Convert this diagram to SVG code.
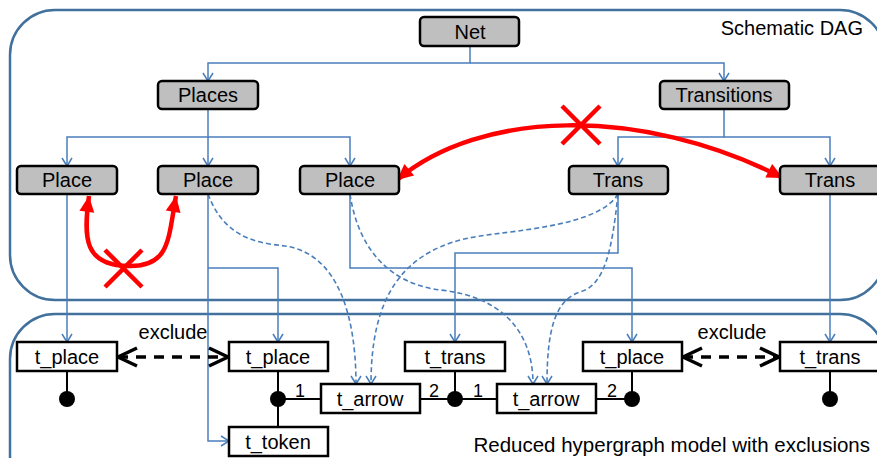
<svg xmlns="http://www.w3.org/2000/svg" width="877" height="458" viewBox="0 0 877 458">
<style>
.cont{fill:none;stroke:#41719C;stroke-width:2.5}
.gn{fill:#BFBFBF;stroke:#000;stroke-width:2.5}
.wn{fill:#fff;stroke:#000;stroke-width:2.5}
text{font-family:"Liberation Sans",Arial,sans-serif;font-size:20px;fill:#000}
.c{text-anchor:middle}
.blue{fill:none;stroke:#4A7EBB;stroke-width:1.5;marker-end:url(#ba)}
.bd{fill:none;stroke:#4A7EBB;stroke-width:1.6;stroke-dasharray:5,3;marker-end:url(#ba)}
.bl{fill:none;stroke:#000;stroke-width:2}
.ex{fill:none;stroke:#000;stroke-width:3.5;stroke-dasharray:10,8;marker-start:url(#xa);marker-end:url(#xa)}
.red{fill:none;stroke:#FF0000;stroke-width:4.5;marker-start:url(#ra);marker-end:url(#ra)}
.rx{stroke:#FF0000;stroke-width:4.5;fill:none}
.lbl{font-size:18px}
</style>
<defs>
<marker id="ba" viewBox="-10 -7 12 14" markerWidth="12" markerHeight="14" refX="0" refY="0" orient="auto" markerUnits="userSpaceOnUse"><path d="M-8,-5 L0,0 L-8,5" fill="none" stroke="#4A7EBB" stroke-width="1.5"/></marker>
<marker id="xa" viewBox="-24 -13 28 26" markerWidth="28" markerHeight="26" refX="0" refY="0" orient="auto-start-reverse" markerUnits="userSpaceOnUse"><path d="M-19,-9 L0,0 L-19,9" fill="none" stroke="#000" stroke-width="3.5"/></marker>
<marker id="ra" viewBox="-17 -9 19 18" markerWidth="19" markerHeight="18" refX="0" refY="0" orient="auto-start-reverse" markerUnits="userSpaceOnUse"><path d="M-16,-7.5 L0,0 L-16,7.5 Z" fill="#FF0000"/></marker>
</defs>
<rect width="877" height="458" fill="#fff"/>
<g id="containers">
<rect class="cont" x="10" y="10" width="875" height="290" rx="45"/>
<rect class="cont" x="10" y="314" width="875" height="200" rx="45"/>
<text x="863" y="35" text-anchor="end">Schematic DAG</text>
<text x="870" y="452" text-anchor="end" style="font-size:20.5px">Reduced hypergraph model with exclusions</text>
</g>
<g id="connectors">
<path class="blue" d="M470,46 V63 H208 V81"/>
<path class="blue" d="M470,63 H724 V81"/>
<path class="blue" d="M208,109 V137 H67 V166"/>
<path class="blue" d="M208,137 V166"/>
<path class="blue" d="M208,137 H350 V166"/>
<path class="blue" d="M724,109 V137 H618 V166"/>
<path class="blue" d="M724,137 H830 V166"/>
<path class="blue" d="M67,194 V342"/>
<path class="blue" d="M208,194 V441 H229"/>
<path class="blue" d="M208,268 H278 V342"/>
<path class="blue" d="M350,194 V268 H632 V342"/>
<path class="blue" d="M618,194 V253 H455 V342"/>
<path class="blue" d="M830,194 V342"/>
<path class="bd" d="M208,194 C225,240 260,243 285,246 C340,254 356,320 356,384"/>
<path class="bd" d="M618,194 C600,225 520,230 480,236 C400,248 371,300 371,384"/>
<path class="bd" d="M350,194 C360,260 400,285 440,290 C500,296 533,330 533,384"/>
<path class="bd" d="M618,194 C612,250 605,285 580,292 C555,300 547,330 547,384"/>
<path class="bl" d="M67,371 V399"/>
<path class="bl" d="M278,371 V427 M278,399 H321"/>
<path class="bl" d="M420,399 H497 M455,371 V399"/>
<path class="bl" d="M596,399 H632 M632,371 V399"/>
<path class="bl" d="M830,371 V399"/>
<circle cx="67" cy="399" r="8"/>
<circle cx="278" cy="399" r="8"/>
<circle cx="455" cy="399" r="8"/>
<circle cx="632" cy="399" r="8"/>
<circle cx="830" cy="399" r="8"/>
<text class="c lbl" x="300" y="397">1</text>
<text class="c lbl" x="434" y="397">2</text>
<text class="c lbl" x="478" y="397">1</text>
<text class="c lbl" x="612" y="397">2</text>
<path class="ex" d="M118,357 H228"/>
<path class="ex" d="M683,357 H779"/>
<text class="c" x="173" y="339">exclude</text>
<text class="c" x="732" y="339">exclude</text>
<path class="red" d="M397,180 C480,110 640,105 783,178"/>
<path class="red" d="M89,196 C83,240 85,265 128,266 C170,267 168,240 176,196"/>
<path class="rx" d="M562,106 L600,144 M600,106 L562,144"/>
<path class="rx" d="M105,250 L142,287 M142,250 L105,287"/>
</g>
<g id="n-net"><rect class="gn" x="420" y="17" width="99" height="29" rx="4"/><text class="c" x="470" y="39">Net</text></g>
<g id="n-places"><rect class="gn" x="158" y="81" width="100" height="28" rx="4"/><text class="c" x="208" y="102">Places</text></g>
<g id="n-transitions"><rect class="gn" x="660" y="81" width="129" height="28" rx="4"/><text class="c" x="724" y="102">Transitions</text></g>
<g id="n-place1"><rect class="gn" x="17" y="166" width="100" height="28" rx="4"/><text class="c" x="67" y="187">Place</text></g>
<g id="n-place2"><rect class="gn" x="158" y="166" width="100" height="28" rx="4"/><text class="c" x="208" y="187">Place</text></g>
<g id="n-place3"><rect class="gn" x="300" y="166" width="99" height="28" rx="4"/><text class="c" x="350" y="187">Place</text></g>
<g id="n-trans1"><rect class="gn" x="569" y="166" width="99" height="28" rx="4"/><text class="c" x="618" y="187">Trans</text></g>
<g id="n-trans2"><rect class="gn" x="780" y="166" width="100" height="28" rx="4"/><text class="c" x="830" y="187">Trans</text></g>
<g id="n-tplace1"><rect class="wn" x="17" y="342" width="100" height="29"/><text class="c" x="67" y="364">t_place</text></g>
<g id="n-tplace2"><rect class="wn" x="229" y="342" width="99" height="29"/><text class="c" x="278" y="364">t_place</text></g>
<g id="n-tarrow1"><rect class="wn" x="321" y="384" width="99" height="29"/><text class="c" x="370" y="406">t_arrow</text></g>
<g id="n-ttoken"><rect class="wn" x="229" y="427" width="99" height="29"/><text class="c" x="278" y="449">t_token</text></g>
<g id="n-ttrans1"><rect class="wn" x="405" y="342" width="100" height="29"/><text class="c" x="455" y="364">t_trans</text></g>
<g id="n-tarrow2"><rect class="wn" x="497" y="384" width="99" height="29"/><text class="c" x="546" y="406">t_arrow</text></g>
<g id="n-tplace3"><rect class="wn" x="583" y="342" width="99" height="29"/><text class="c" x="632" y="364">t_place</text></g>
<g id="n-ttrans2"><rect class="wn" x="780" y="342" width="100" height="29"/><text class="c" x="830" y="364">t_trans</text></g>
</svg>
